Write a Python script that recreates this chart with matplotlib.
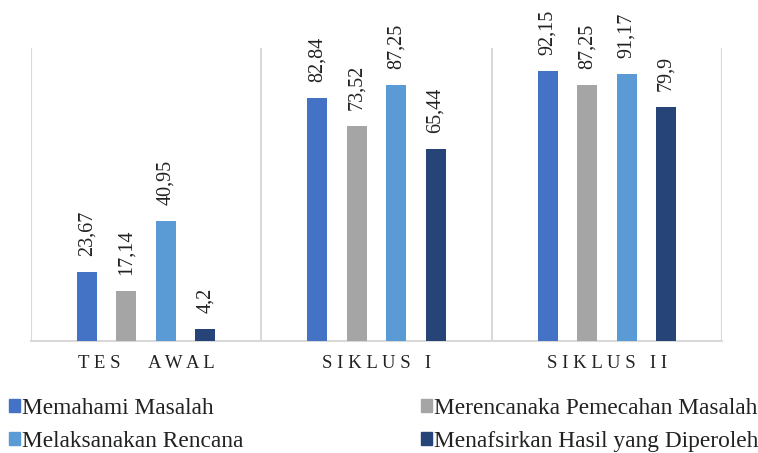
import matplotlib
matplotlib.use("Agg")
import matplotlib.pyplot as plt
from matplotlib.patches import Rectangle
import numpy as np

categories = ["T E S      A W A L", "S I K L U S   I", "S I K L U S   I I"]
series_names = ["Memahami Masalah", "Merencanaka Pemecahan Masalah",
                "Melaksanakan Rencana", "Menafsirkan Hasil yang Diperoleh"]
memahami = [23.67, 82.84, 92.15]
merencanakan = [17.14, 73.52, 87.25]
melaksanakan = [40.95, 87.25, 91.17]
menafsirkan = [4.2, 65.44, 79.9]
series = [memahami, merencanakan, melaksanakan, menafsirkan]
colors = ["#4472C4", "#A5A5A5", "#5B9BD5", "#264478"]

plt.rcParams['font.family'] = ['Liberation Serif', 'DejaVu Serif']

fig = plt.figure(figsize=(7.58, 4.53), dpi=100)
ax = fig.add_axes([31/758, 1-341/453, (722-31)/758, (341-48)/453])

x = np.arange(len(categories))
width = 0.087
step = 0.171
offsets = (np.arange(4) - 1.5) * step
for vals, off, col in zip(series, offsets, colors):
    bars = ax.bar(x + off, vals, width=width, color=col, zorder=3)
    for b, v in zip(bars, vals):
        lbl = ("%g" % v).replace(".", ",")
        ax.annotate(lbl, (b.get_x() + b.get_width()/2, v),
                    xytext=(0, 16), textcoords='offset pixels',
                    rotation=90, ha='center', va='bottom',
                    fontsize=14.5, color='#222222', annotation_clip=False)

ax.set_xlim(-0.5, 2.5)
ax.set_ylim(0, 100)
for xv in [-0.5, 0.5, 1.5, 2.5]:
    ax.axvline(xv, color='#D9D9D9', lw=1.5, zorder=1)
for s in ['top', 'right', 'left']:
    ax.spines[s].set_visible(False)
ax.spines['bottom'].set_color('#D9D9D9')
ax.spines['bottom'].set_linewidth(1.5)
ax.set_yticks([])
ax.set_xticks(x)
ax.set_xticklabels(categories, fontsize=13.5, color='#222222')
ax.tick_params(axis='x', length=0, pad=10)

handles = [Rectangle((0, 0), 1, 1, color=c) for c in colors]
common = dict(frameon=False, fontsize=16.8, handlelength=0.48, handleheight=0.48,
              handletextpad=0.08, labelspacing=0.5, borderpad=0, borderaxespad=0,
              loc='upper left')
leg1 = fig.legend([handles[0], handles[2]], [series_names[0], series_names[2]],
                  bbox_to_anchor=(9/758, 1-398/453), **common)
leg2 = fig.legend([handles[1], handles[3]], [series_names[1], series_names[3]],
                  bbox_to_anchor=(421/758, 1-398/453), **common)
for leg in (leg1, leg2):
    for t in leg.get_texts():
        t.set_color('#222222')

fig.savefig("out.png", dpi=100)
